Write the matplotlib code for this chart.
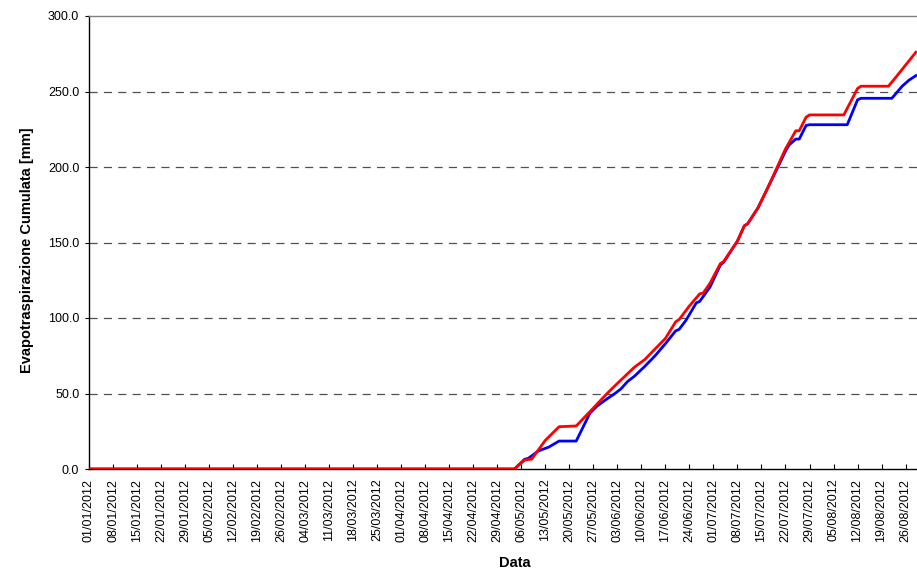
import datetime as dt
import matplotlib
matplotlib.use("Agg")
import matplotlib.pyplot as plt
import matplotlib.dates as mdates
from matplotlib.ticker import FixedLocator, FormatStrFormatter

plt.rcParams['font.family'] = ['Liberation Sans', 'DejaVu Sans']

# Cumulative evapotranspiration [mm] – red series
red_dates = ["2012-01-01", "2012-05-04", "2012-05-07", "2012-05-09", "2012-05-13",
             "2012-05-17", "2012-05-22", "2012-05-26", "2012-05-31", "2012-06-02",
             "2012-06-05", "2012-06-08", "2012-06-11", "2012-06-14", "2012-06-17",
             "2012-06-20", "2012-06-21", "2012-06-24", "2012-06-27", "2012-06-28",
             "2012-06-30", "2012-07-03", "2012-07-04", "2012-07-08", "2012-07-10",
             "2012-07-11", "2012-07-14", "2012-07-17", "2012-07-20", "2012-07-22",
             "2012-07-25", "2012-07-26", "2012-07-28", "2012-07-29", "2012-08-08",
             "2012-08-12", "2012-08-13", "2012-08-21", "2012-08-23", "2012-08-26",
             "2012-08-29"]
red_values = [0.0, 0.0, 6.0, 6.5, 19.0,
              28.0, 28.5, 38.0, 50.0, 54.5,
              61.0, 67.5, 72.5, 79.5, 86.5,
              97.5, 99.0, 108.0, 116.0, 116.5,
              123.0, 136.0, 137.5, 151.0, 161.0,
              162.5, 173.0, 187.0, 202.0, 212.0,
              224.0, 224.0, 233.0, 234.5, 234.5,
              252.0, 253.5, 253.5, 259.0, 267.5,
              276.0]

# Cumulative evapotranspiration [mm] – blue series
blue_dates = ["2012-01-01", "2012-05-04", "2012-05-07", "2012-05-08", "2012-05-11",
              "2012-05-14", "2012-05-17", "2012-05-22", "2012-05-26", "2012-05-28",
              "2012-05-31", "2012-06-02", "2012-06-04", "2012-06-06", "2012-06-08",
              "2012-06-11", "2012-06-14", "2012-06-17", "2012-06-20", "2012-06-21",
              "2012-06-23", "2012-06-26", "2012-06-27", "2012-06-30", "2012-07-03",
              "2012-07-04", "2012-07-08", "2012-07-10", "2012-07-11", "2012-07-14",
              "2012-07-17", "2012-07-20", "2012-07-22", "2012-07-23", "2012-07-25",
              "2012-07-26", "2012-07-28", "2012-07-29", "2012-08-09", "2012-08-12",
              "2012-08-13", "2012-08-22", "2012-08-25", "2012-08-27", "2012-08-29"]
blue_values = [0.0, 0.0, 6.5, 7.0, 12.0,
               14.5, 18.5, 18.5, 37.0, 41.5,
               46.5, 49.5, 53.0, 58.0, 61.5,
               68.0, 75.0, 83.0, 91.5, 92.5,
               98.5, 110.0, 111.0, 120.5, 135.0,
               137.0, 151.0, 161.0, 162.5, 173.0,
               187.0, 201.0, 210.5, 214.5, 218.5,
               218.5, 227.5, 228.0, 228.0, 244.5,
               245.5, 245.5, 253.5, 257.5, 260.5]

# Weekly tick labels on the date axis
tick_labels = ["01/01/2012", "08/01/2012", "15/01/2012", "22/01/2012", "29/01/2012",
               "05/02/2012", "12/02/2012", "19/02/2012", "26/02/2012", "04/03/2012",
               "11/03/2012", "18/03/2012", "25/03/2012", "01/04/2012", "08/04/2012",
               "15/04/2012", "22/04/2012", "29/04/2012", "06/05/2012", "13/05/2012",
               "20/05/2012", "27/05/2012", "03/06/2012", "10/06/2012", "17/06/2012",
               "24/06/2012", "01/07/2012", "08/07/2012", "15/07/2012", "22/07/2012",
               "29/07/2012", "05/08/2012", "12/08/2012", "19/08/2012", "26/08/2012"]
y_ticks = [0, 50, 100, 150, 200, 250, 300]


def to_num(strings, fmt):
    return [mdates.date2num(dt.datetime.strptime(s, fmt)) for s in strings]


red_x = to_num(red_dates, "%Y-%m-%d")
blue_x = to_num(blue_dates, "%Y-%m-%d")
tick_x = to_num(tick_labels, "%d/%m/%Y")

fig = plt.figure(figsize=(9.17, 5.72), dpi=100)
ax = fig.add_axes([89 / 917, 103 / 572, 828 / 917, 453 / 572])

# dashed horizontal grid
for y in y_ticks[1:-1]:
    ax.axhline(y, color="#505050", lw=0.9, ls=(0, (6.5, 5)), zorder=1)

ax.plot(blue_x, blue_values, color="#0000ff", lw=2.0, zorder=3, solid_joinstyle="round")
ax.plot(red_x, red_values, color="#ff0000", lw=2.0, zorder=4, solid_joinstyle="round")

x0 = tick_x[0]
ax.set_xlim(x0, x0 + 828 / 3.431)
ax.set_ylim(0, 300)

ax.xaxis.set_major_locator(FixedLocator(tick_x))
ax.set_xticklabels(tick_labels, rotation=90, fontsize=9)
ax.yaxis.set_major_locator(FixedLocator(y_ticks))
ax.yaxis.set_major_formatter(FormatStrFormatter("%.1f"))
ax.tick_params(axis="y", labelsize=9, length=3, width=0.8, direction="out", pad=4)
ax.tick_params(axis="x", length=3.5, width=0.8, direction="in", pad=7)

ax.spines["right"].set_visible(False)
ax.spines["top"].set_color("#808080")
ax.spines["top"].set_linewidth(1.0)
ax.spines["left"].set_color("black")
ax.spines["bottom"].set_color("black")
ax.spines["left"].set_linewidth(1.0)
ax.spines["bottom"].set_linewidth(1.0)

ax.set_ylabel("Evapotraspirazione Cumulata [mm]", fontsize=10.5, fontweight="bold")
ax.set_xlabel("Data", fontsize=10.5, fontweight="bold")
ax.yaxis.set_label_coords(-0.0664, 0.4834)
ax.xaxis.set_label_coords(0.5145, -0.192)

fig.savefig("out.png", dpi=100)
